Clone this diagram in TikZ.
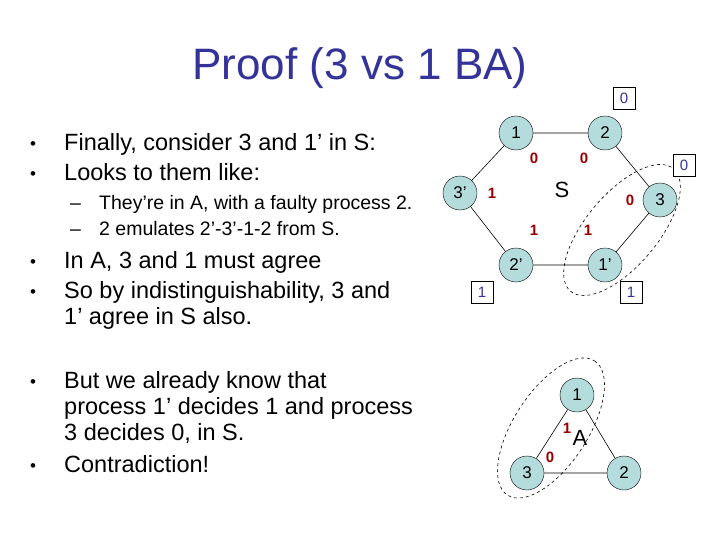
\documentclass[tikz,border=0pt]{standalone}
\usepackage{fontspec}
\setmainfont{Liberation Sans}
\definecolor{nodefill}{RGB}{180,220,220}
\definecolor{titleblue}{RGB}{51,51,153}
\begin{document}
\begin{tikzpicture}[x=1pt,y=-1pt,
  proc/.style={circle,draw,fill=nodefill,minimum size=34pt,inner sep=0pt,font=\fontsize{17}{17}\selectfont},
  val/.style={text=red!60!black,font=\fontsize{15}{15}\selectfont\bfseries},
  dec/.style={draw,text=titleblue,minimum size=22pt,inner sep=0pt,font=\fontsize{15}{15}\selectfont},
  edge/.style={draw,line width=0.6pt},
  grp/.style={draw,dashed,line width=0.6pt},
  blt/.style={anchor=base west,inner sep=0pt,font=\fontsize{17}{17}\selectfont},
  body/.style={anchor=base west,inner sep=0pt,font=\fontsize{23.5}{23}\selectfont},
  sub/.style={anchor=base west,inner sep=0pt,font=\fontsize{19.5}{19}\selectfont}]
\useasboundingbox (0,0) rectangle (720,540);
\node[text=titleblue,font=\fontsize{44}{44}\selectfont] (title) at (360,68) {Proof (3 vs 1 BA)};
\node[blt] (p1) at (30,150) {•}; \node[body] (b1) at (64,151) {Finally, consider 3 and 1’ in S:};
\node[blt] (p2) at (30,180) {•}; \node[body] (b2) at (64,181) {Looks to them like:};
\node[sub] (q1) at (70,210) {–}; \node[sub] (s1) at (99,210) {They’re in A, with a faulty process 2.};
\node[sub] (q2) at (70,236) {–}; \node[sub] (s2) at (99,236) {2 emulates 2’-3’-1-2 from S.};
\node[blt] (p3) at (30,267) {•}; \node[body] (b3) at (64,268) {In A, 3 and 1 must agree};
\node[blt] (p4) at (30,297) {•}; \node[body] (b4) at (64,298) {So by indistinguishability, 3 and};
\node[body] (b4b) at (64,324) {1’ agree in S also.};
\node[blt] (p5) at (30,387) {•}; \node[body] (b5) at (64,388) {But we already know that};
\node[body] (b5b) at (64,414) {process 1’ decides 1 and process};
\node[body] (b5c) at (64,440) {3 decides 0, in S.};
\node[blt] (p6) at (30,471) {•}; \node[body] (b6) at (64,472) {Contradiction!};
% S
\node[proc] (n1) at (516,133) {1};
\node[proc] (n2) at (605,133) {2};
\node[proc] (n3p) at (460,193) {3’};
\node[proc] (n3) at (660,200) {3};
\node[proc] (n2p) at (516,265) {2’};
\node[proc] (n1p) at (605,265) {1’};
\draw[edge] (n1)--(n2) (n2)--(n3) (n3)--(n1p) (n1p)--(n2p) (n2p)--(n3p) (n3p)--(n1);
\node[font=\fontsize{22}{22}\selectfont] (S) at (562,190) {S};
\node[val] (v1) at (534,158) {0};
\node[val] (v2) at (584,158) {0};
\node[val] (v3) at (492,193) {1};
\node[val] (v4) at (630,200) {0};
\node[val] (v5) at (534,230) {1};
\node[val] (v6) at (588,230) {1};
\draw[grp,rotate around={50:(622,230)}] (622,230) ellipse (80 and 36);
\node[dec,fill=white] (d1) at (624,98) {0};
\node[dec,fill=white] (d2) at (684,165) {0};
\node[dec,fill=white] (d3) at (482,292) {1};
\node[dec,fill=white] (d4) at (631,292) {1};
% A
\node[proc] (a1) at (577,395) {1};
\node[proc] (a3) at (527,473) {3};
\node[proc] (a2) at (624,473) {2};
\draw[edge] (a1)--(a3) (a3)--(a2) (a2)--(a1);
\node[font=\fontsize{22}{22}\selectfont] (A) at (580,438) {A};
\node[val] (w1) at (567,428) {1};
\node[val] (w2) at (550,457) {0};
\draw[grp,rotate around={57:(551,428)}] (551,428) ellipse (80 and 37);
\end{tikzpicture}
\end{document}
